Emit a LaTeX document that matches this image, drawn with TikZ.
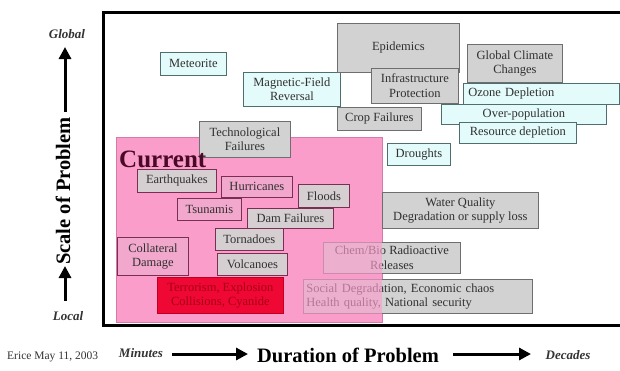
\documentclass[tikz,border=0pt]{standalone}
\usepackage{fontspec}
\setmainfont{Liberation Serif}
\usetikzlibrary{arrows.meta}
\definecolor{cyanfill}{HTML}{E4FBFB}
\definecolor{cyanline}{HTML}{4F6F6F}
\definecolor{grayfill}{HTML}{D2D2D2}
\definecolor{grayline}{HTML}{6E6E6E}
\definecolor{pinkreg}{HTML}{FB9DCB}
\definecolor{pinkbox}{HTML}{F2A8CC}
\definecolor{maroon}{HTML}{7A2E52}
\definecolor{curcol}{HTML}{4A0A25}
\definecolor{redfill}{HTML}{EE0833}
\definecolor{redline}{HTML}{C0001E}
\definecolor{redtext}{HTML}{A80018}
\definecolor{boxtext}{HTML}{303030}
\tikzset{
  x=1pt, y=-1pt,
  box/.style={anchor=north west, inner sep=1pt, align=center, line width=0.8pt,
    font=\fontsize{12.5}{14.5}\selectfont, text=boxtext},
  cbox/.style={box, fill=cyanfill, draw=cyanline},
  gbox/.style={box, fill=grayfill, draw=grayline},
  gpbox/.style={box, fill=grayfill!92!pinkbox, draw=maroon},
  pbox/.style={box, fill=pinkbox, draw=maroon},
  rbox/.style={box, fill=redfill, draw=redline, text=redtext},
  bigarrow/.style={line width=3pt, -{Triangle[length=12pt,width=12pt]}},
  endlabel/.style={font=\fontsize{13}{15}\selectfont\bfseries\itshape, text=black!80},
  axistitle/.style={font=\fontsize{20.5}{24}\selectfont\bfseries}
}
\begin{document}
\begin{tikzpicture}
\useasboundingbox (0,0) rectangle (620,370);
% frame
\draw[line width=3pt] (620,12) -- (103,12) -- (103,325) -- (620,325);
% pink region
\fill[pinkreg] (116,137) rectangle (382,322);
\draw[pinkreg!70!maroon, line width=0.6pt] (116,137) rectangle (382,322);
% boxes partly under the pink region
\node[gbox, minimum width=137pt, minimum height=31pt] (chem) at (323,242) {Chem/Bio Radioactive\\Releases};
\node[gbox, minimum height=34pt, text width=223pt, align=left, inner xsep=3pt] (social) at (303,279) {Social Degradation, Economic chaos\\Health quality, National security};
\fill[pinkreg, fill opacity=0.65] (303,242) rectangle (382,322);
% upper boxes
\node[cbox, minimum width=66pt, minimum height=23pt] (meteor) at (160,52) {Meteorite};
\node[cbox, minimum width=97pt, minimum height=34pt] (magnet) at (243,72) {Magnetic-Field\\Reversal};
\node[gbox, minimum width=122pt, minimum height=49pt] (epid) at (337,23) {Epidemics};
\node[gbox, minimum width=87pt, minimum height=35pt] (infra) at (371,68) {Infrastructure\\Protection};
\node[gbox, minimum width=95pt, minimum height=38pt] (climate) at (467,44) {Global Climate\\Changes};
\node[cbox, minimum height=21pt, text width=146pt, align=left, inner xsep=5pt] (ozone) at (463,83) {Ozone Depletion};
\node[cbox, minimum width=165pt, minimum height=20pt] (overpop) at (441,104) {Over-population};
\node[cbox, minimum width=117pt, minimum height=21pt] (resource) at (459,122) {Resource depletion};
\node[gbox, minimum width=84pt, minimum height=23pt] (crop) at (337,107) {Crop Failures};
\node[cbox, minimum width=63pt, minimum height=22pt] (drought) at (387,143) {Droughts};
\node[gbox, minimum width=91pt, minimum height=36pt] (techno) at (199,121) {Technological\\Failures};
\node[gbox, minimum width=156pt, minimum height=36pt] (water) at (382,192) {Water Quality\\Degradation or supply loss};
% Current
\node[anchor=base west, inner sep=0pt, font=\fontsize{25}{28}\selectfont\bfseries, text=curcol] (current) at (119,167) {Current};
% boxes inside pink region
\node[gpbox, minimum width=79pt, minimum height=23pt] (quake) at (137,169) {Earthquakes};
\node[pbox, minimum width=71pt, minimum height=21pt] (hurr) at (221,176) {Hurricanes};
\node[pbox, minimum width=64pt, minimum height=22pt] (tsun) at (177,198) {Tsunamis};
\node[gpbox, minimum width=51pt, minimum height=23pt] (flood) at (298,184) {Floods};
\node[gpbox, minimum width=86pt, minimum height=20pt] (dam) at (247,208) {Dam Failures};
\node[gpbox, minimum width=68pt, minimum height=22pt] (torn) at (215,228) {Tornadoes};
\node[gpbox, minimum width=70pt, minimum height=22pt] (volc) at (217,253) {Volcanoes};
\node[pbox, minimum width=71pt, minimum height=38pt] (coll) at (117,237) {Collateral\\Damage};
\node[rbox, minimum width=126pt, minimum height=36pt] (terror) at (157,277) {Terrorism, Explosion\\Collisions, Cyanide};
% vertical axis
\node[endlabel] (global) at (67,34) {Global};
\node[endlabel] (local) at (68,316) {Local};
\node[axistitle, rotate=90] (scale) at (63,191) {Scale of Problem};
\coordinate (uptail) at (65,112);
\coordinate (uptip) at (65,47);
\coordinate (lotail) at (65,301);
\coordinate (lotip) at (65,266);
\draw[bigarrow] (uptail) -- (uptip);
\draw[bigarrow] (lotail) -- (lotip);
% horizontal axis
\node[anchor=west, inner sep=0pt, font=\fontsize{11.5}{13}\selectfont, text=black!80] (erice) at (7,357) {Erice May 11, 2003};
\node[endlabel] (minutes) at (141,353) {Minutes};
\node[axistitle] (duration) at (348,355) {Duration of Problem};
\node[endlabel] (decades) at (568,355) {Decades};
\coordinate (ltail) at (172,354);
\coordinate (ltip) at (248,354);
\coordinate (rtail) at (453,354);
\coordinate (rtip) at (531,354);
\draw[bigarrow] (ltail) -- (ltip);
\draw[bigarrow] (rtail) -- (rtip);
\end{tikzpicture}
\end{document}
